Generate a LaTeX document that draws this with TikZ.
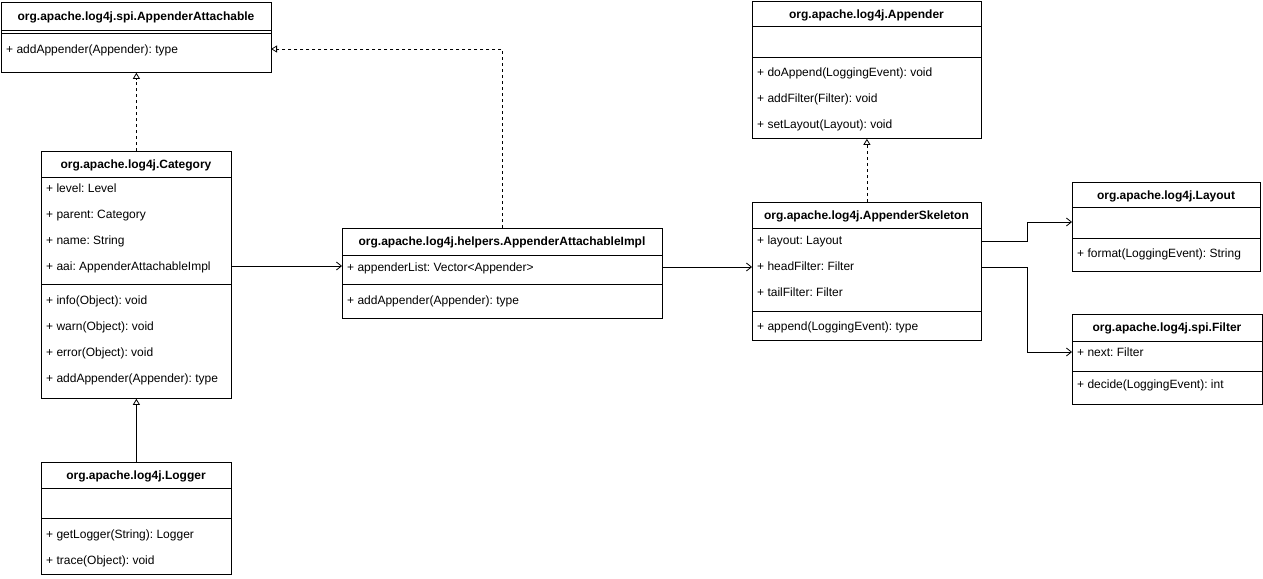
\documentclass[tikz,border=0pt]{standalone}
\usepackage{fontspec}
\setmainfont{Liberation Sans}
\usetikzlibrary{arrows.meta}
\frenchspacing
\begin{document}
\begin{tikzpicture}[x=1pt,y=-1pt,
  box/.style={draw, line width=0.8pt, fill=white, anchor=north west, inner sep=0pt},
  ttl/.style={font=\fontsize{12}{14}\selectfont\bfseries, inner sep=0pt, text height=8.5pt, text depth=2.2pt, yshift=-1.2pt},
  mem/.style={font=\fontsize{12}{14}\selectfont, anchor=west, inner sep=0pt, text height=8.5pt, text depth=2.2pt, yshift=-1.2pt},
  div/.style={line width=0.8pt},
  real/.style={line width=0.8pt, dash pattern=on 3pt off 3pt, -{Triangle[open,length=6pt,width=7pt]}},
  gen/.style={line width=0.8pt, -{Triangle[open,length=6pt,width=7pt]}},
  assoc/.style={line width=0.8pt, -{Straight Barb[length=5pt,width=8pt]}}
]
\useasboundingbox (0,0) rectangle (1263,578);

% AppenderAttachable
\node[box, minimum width=270pt, minimum height=70pt] (aa) at (1,2) {};
\draw[div] (1,30) -- (271,30);
\draw[div] (1,33) -- (271,33);
\node[ttl] (aa-t) at (136,16) {org.apache.log4j.spi.AppenderAttachable};
\node[mem] (aa-add) at (6,49) {+ addAppender(Appender): type};
\coordinate (aa-in) at (271,49);

% Category
\node[box, minimum width=190pt, minimum height=247pt] (cat) at (41,151) {};
\draw[div] (41,177) -- (231,177);
\draw[div] (41,284) -- (231,284);
\node[ttl] (cat-t) at (136,164) {org.apache.log4j.Category};
\node[mem] (cat-level) at (46,188) {+ level: Level};
\node[mem] (cat-parent) at (46,214) {+ parent: Category};
\node[mem] (cat-name) at (46,240) {+ name: String};
\node[mem] (cat-aai) at (46,266) {+ aai: AppenderAttachableImpl};
\node[mem] (cat-info) at (46,300) {+ info(Object): void};
\node[mem] (cat-warn) at (46,326) {+ warn(Object): void};
\node[mem] (cat-error) at (46,352) {+ error(Object): void};
\node[mem] (cat-add) at (46,378) {+ addAppender(Appender): type};
\coordinate (cat-out) at (231,266);

% Logger
\node[box, minimum width=190pt, minimum height=112pt] (log) at (41,462) {};
\draw[div] (41,488) -- (231,488);
\draw[div] (41,518) -- (231,518);
\node[ttl] (log-t) at (136,475) {org.apache.log4j.Logger};
\node[mem] (log-get) at (46,534) {+ getLogger(String): Logger};
\node[mem] (log-trace) at (46,560) {+ trace(Object): void};

% AppenderAttachableImpl
\node[box, minimum width=320pt, minimum height=90pt] (impl) at (342,228) {};
\draw[div] (342,255) -- (662,255);
\draw[div] (342,284) -- (662,284);
\node[ttl] (impl-t) at (502,241) {org.apache.log4j.helpers.AppenderAttachableImpl};
\node[mem] (impl-list) at (347,267) {+ appenderList: Vector<Appender>};
\node[mem] (impl-add) at (347,300) {+ addAppender(Appender): type};
\coordinate (impl-out) at (662,267);

% Appender
\node[box, minimum width=229pt, minimum height=137pt] (ap) at (752,1) {};
\draw[div] (752,26) -- (981,26);
\draw[div] (752,57) -- (981,57);
\node[ttl] (ap-t) at (866.5,14) {org.apache.log4j.Appender};
\node[mem] (ap-do) at (757,72) {+ doAppend(LoggingEvent): void};
\node[mem] (ap-filter) at (757,98) {+ addFilter(Filter): void};
\node[mem] (ap-layout) at (757,124) {+ setLayout(Layout): void};

% AppenderSkeleton
\node[box, minimum width=229pt, minimum height=138pt] (sk) at (752,202) {};
\draw[div] (752,228) -- (981,228);
\draw[div] (752,311) -- (981,311);
\node[ttl] (sk-t) at (866.5,215) {org.apache.log4j.AppenderSkeleton};
\node[mem] (sk-layout) at (757,240) {+ layout: Layout};
\node[mem] (sk-head) at (757,266) {+ headFilter: Filter};
\node[mem] (sk-tail) at (757,292) {+ tailFilter: Filter};
\node[mem] (sk-append) at (757,326) {+ append(LoggingEvent): type};
\coordinate (sk-out1) at (981,241);
\coordinate (sk-out2) at (981,267);

% Layout
\node[box, minimum width=188pt, minimum height=89pt] (lay) at (1072,182) {};
\draw[div] (1072,207) -- (1260,207);
\draw[div] (1072,238) -- (1260,238);
\node[ttl] (lay-t) at (1166,195) {org.apache.log4j.Layout};
\node[mem] (lay-format) at (1077,253) {+ format(LoggingEvent): String};
\coordinate (lay-in) at (1072,222);

% Filter
\node[box, minimum width=190pt, minimum height=90pt] (fil) at (1072,314) {};
\draw[div] (1072,341) -- (1262,341);
\draw[div] (1072,371) -- (1262,371);
\node[ttl] (fil-t) at (1167,327) {org.apache.log4j.spi.Filter};
\node[mem] (fil-next) at (1077,352) {+ next: Filter};
\node[mem] (fil-decide) at (1077,384) {+ decide(LoggingEvent): int};
\coordinate (fil-in) at (1072,352);

% Connectors
\draw[real] (cat.north) -- (aa.south);
\draw[gen] (log.north) -- (cat.south);
\draw[assoc] (cat-out) -- (impl.west |- cat-out);
\draw[real] (impl.north) |- (aa-in);
\draw[assoc] (impl-out) -- (sk.west |- impl-out);
\draw[real] (sk.north) -- (ap.south);
\draw[assoc] (sk-out1) -- ++(46,0) |- (lay-in);
\draw[assoc] (sk-out2) -- ++(46,0) |- (fil-in);
\end{tikzpicture}
\end{document}
